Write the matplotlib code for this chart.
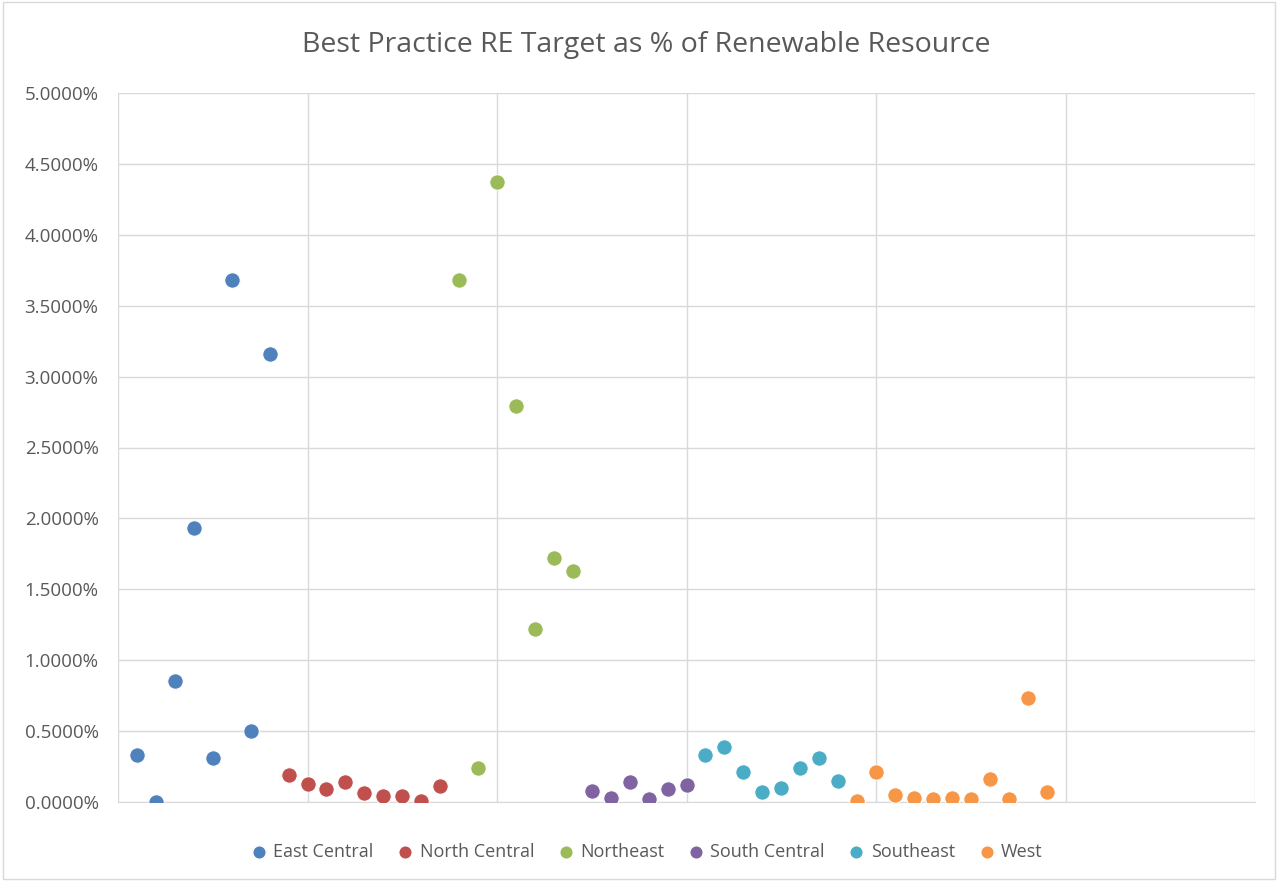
import matplotlib.pyplot as plt
from matplotlib.ticker import FuncFormatter, MultipleLocator

plt.rcParams['font.family'] = ['Open Sans', 'DejaVu Sans']

# region names, colours and values (fraction in percent)
regions = ['East Central', 'North Central', 'Northeast', 'South Central', 'Southeast', 'West']
colors = ['#4F81BD', '#C0504D', '#9BBB59', '#8064A2', '#4BACC6', '#F79646']

east_central = [0.33, 0.00, 0.85, 1.93, 0.31, 3.68, 0.50, 3.16]
north_central = [0.19, 0.13, 0.09, 0.14, 0.06, 0.04, 0.04, 0.01, 0.11]
northeast = [3.68, 0.24, 4.37, 2.79, 1.22, 1.72, 1.63]
south_central = [0.08, 0.03, 0.14, 0.02, 0.09, 0.12]
southeast = [0.33, 0.39, 0.21, 0.07, 0.10, 0.24, 0.31, 0.15]
west = [0.01, 0.21, 0.05, 0.03, 0.02, 0.03, 0.02, 0.16, 0.02, 0.73, 0.07]

series = [east_central, north_central, northeast, south_central, southeast, west]

fig = plt.figure(figsize=(12.78, 8.81), dpi=100)
ax = fig.add_axes([118 / 1278, 79 / 881, 1137 / 1278, 709 / 881])

start = 1
for name, vals, c in zip(regions, series, colors):
    xs = list(range(start, start + len(vals)))
    ax.scatter(xs, vals, s=125, color=c, edgecolors='white', linewidths=0.8,
               label=name, zorder=3)
    start += len(vals)

ax.set_xlim(0, 60)
ax.set_ylim(0, 5)
ax.xaxis.set_major_locator(MultipleLocator(10))
ax.yaxis.set_major_locator(MultipleLocator(0.5))
ax.yaxis.set_major_formatter(FuncFormatter(lambda v, p: f'{v:.4f}%'))
ax.set_xticklabels([])
ax.grid(True, color='#D9D9D9', linewidth=1)
ax.set_axisbelow(True)
for side in ['top', 'right', 'left']:
    ax.spines[side].set_visible(False)
ax.spines['bottom'].set_color('#D9D9D9')
ax.tick_params(axis='x', length=0)
ax.tick_params(axis='y', length=0, labelsize=13.5, labelcolor='#595959', pad=14)

fig.suptitle('Best Practice RE Target as % of Renewable Resource',
             x=646 / 1278, y=1 - 45 / 881, va='center',
             fontsize=20.5, color='#595959')

ax.legend(loc='upper center', bbox_to_anchor=(0.465, -0.035), ncol=6, frameon=False,
          fontsize=13, labelcolor='#595959', handlelength=0.9, handletextpad=0.35,
          columnspacing=1.3, markerscale=0.85)

fig.patches.append(plt.Rectangle((0.002, 0.002), 0.996, 0.996, transform=fig.transFigure,
                                 fill=False, edgecolor='#D9D9D9', linewidth=1))

fig.savefig('out.png', dpi=100)
